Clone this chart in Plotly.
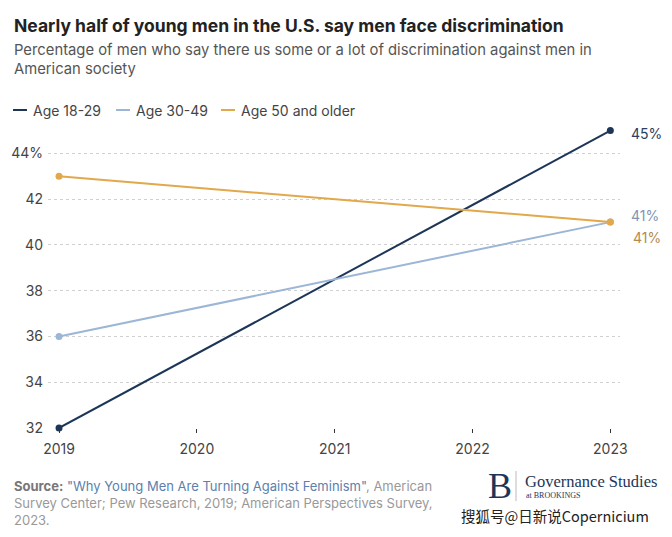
import plotly.graph_objects as go

years = [2019, 2023]
age_18_29 = [32, 45]
age_30_49 = [36, 41]
age_50_plus = [43, 41]
series_names = ["Age 18-29", "Age 30-49", "Age 50 and older"]
series_values = [age_18_29, age_30_49, age_50_plus]
colors = ["#1d3658", "#9cb6d6", "#e2a84c"]
label_colors = ["#2b4060", "#7f95b3", "#b8884a"]
x_ticks = [2019, 2020, 2021, 2022, 2023]
y_ticks = [32, 34, 36, 38, 40, 42, 44]
y_ticktext = ["32", "34", "36", "38", "40", "42", "44%"]

# screen-space plot box (the page body adds an 8px offset)
OFF = 8
PL, PR, PT, PB = 48, 620, 121, 428
FW, FH = 672 - OFF, 537 - OFF


def px(x):
    return (x - PL) / (PR - PL)


def py(y):
    return (PB - y) / (PB - PT)


fig = go.Figure()
for name, vals, c in zip(series_names, series_values, colors):
    fig.add_trace(go.Scatter(x=years, y=vals, name=name, mode="lines+markers",
                             line=dict(color=c, width=2), marker=dict(color=c, size=7),
                             cliponaxis=False, showlegend=False, hoverinfo="skip"))

# end labels
xshifts = [19, 19, 21]
yshifts = [-3, 7, -15]
for vals, c, xs, ys in zip(series_values, label_colors, xshifts, yshifts):
    fig.add_annotation(x=years[-1], y=vals[-1], text=f"{vals[-1]}%", showarrow=False,
                       xanchor="left", xshift=xs, yshift=ys,
                       font=dict(size=14, color=c, family="Inter"))

fig.update_layout(
    width=FW, height=FH,
    margin=dict(l=PL - OFF, r=FW - (PR - OFF), t=PT - OFF, b=FH - (PB - OFF), pad=0, autoexpand=False),
    paper_bgcolor="white", plot_bgcolor="white",
    font=dict(family="Inter", color="#444"),
    hovermode=False,
    xaxis=dict(range=[2018.92, 2023.07], tickvals=x_ticks, ticktext=[str(t) for t in x_ticks],
               showgrid=False, zeroline=False, showline=False,
               ticks="outside", ticklen=4, tickwidth=1, tickcolor="#333", ticklabelstandoff=4,
               automargin=False, tickfont=dict(size=14, color="#444"), fixedrange=True),
    yaxis=dict(range=[32, 45.42], tickvals=y_ticks, ticktext=y_ticktext,
               showgrid=True, gridcolor="#d0d0d0", griddash="dot", gridwidth=1,
               zeroline=False, showline=False, ticks="", ticklabelstandoff=4, automargin=False,
               tickfont=dict(size=14, color="#444"), fixedrange=True),
)


def text(x, y, s, size, color, family="Inter", xanchor="left", align="left"):
    fig.add_annotation(xref="paper", yref="paper", x=px(x), y=py(y), xanchor=xanchor, yanchor="middle",
                       showarrow=False, align=align, text=s,
                       font=dict(size=size, color=color, family=family))


# Title & subtitle
text(12, 25, "<b>Nearly half of young men in the U.S. say men face discrimination</b>", 17.5, "#222")
text(12, 60, "Percentage of men who say there us some or a lot of discrimination against men in<br>American society",
     14.8, "#555")

# Legend (manual)
leg_x = [13, 116, 221]
for lx, name, c in zip(leg_x, series_names, colors):
    fig.add_shape(type="line", xref="paper", yref="paper", x0=px(lx), x1=px(lx + 14),
                  y0=py(110), y1=py(110), line=dict(color=c, width=2))
    text(lx + 18, 110, name, 14, "#444")

# Source
text(12, 503,
     ("<b><span style='color:#777'>Source:</span></b> "
      "<span style='color:#5b7fae'>\"Why Young Men Are Turning Against Feminism\"</span>, American<br>"
      "Survey Center; Pew Research, 2019; American Perspectives Survey,<br>2023."),
     13, "#999")

# Logo
text(486, 486, "B", 36, "#1d3658", family="Liberation Serif")
fig.add_shape(type="line", xref="paper", yref="paper", x0=px(516), x1=px(516), y0=py(471), y1=py(501),
              line=dict(color="#bbb", width=1))
text(523, 481, "Governance Studies", 16.5, "#1d3658", family="Liberation Serif")
text(524, 495, "at BROOKINGS", 8, "#1d3658", family="Liberation Serif")
text(459, 515, "搜狐号@日新说Copernicium", 14.5, "#222", family="Noto Sans CJK SC")

fig.write_html("out.html")
